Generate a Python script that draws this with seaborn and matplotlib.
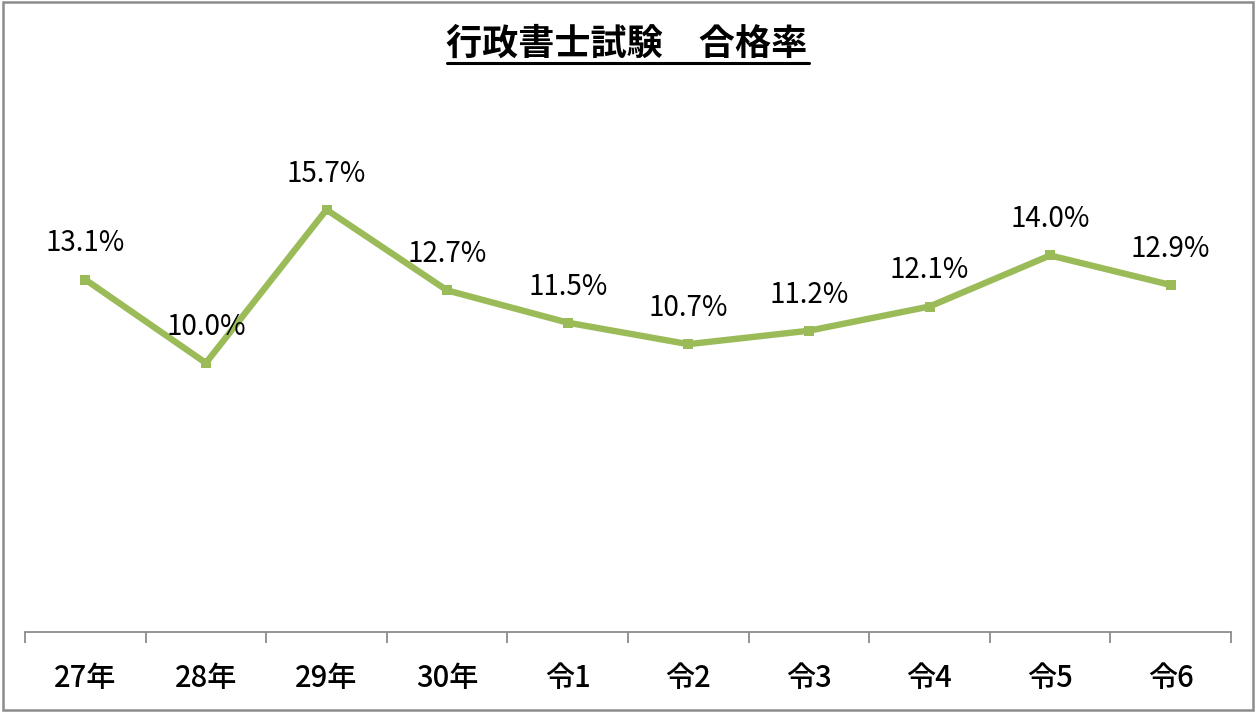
import matplotlib
matplotlib.use("Agg")
import matplotlib.pyplot as plt
import seaborn as sns
import pandas as pd
from matplotlib.patches import Rectangle
from matplotlib.lines import Line2D

categories = ["27年", "28年", "29年", "30年", "令1", "令2", "令3", "令4", "令5", "令6"]
rates = [13.1, 10.0, 15.7, 12.7, 11.5, 10.7, 11.2, 12.1, 14.0, 12.9]
title = "行政書士試験　合格率"

sns.set_theme(style="white")
plt.rcParams['font.family'] = ['Noto Sans CJK JP', 'DejaVu Sans']

df = pd.DataFrame({"year": categories, "rate": rates})

fig = plt.figure(figsize=(12.56, 7.12), dpi=100)
ax = fig.add_axes([25/1256, 1-632/712, (1231-25)/1256, (632-94)/712])

green = "#9BBB59"
sns.lineplot(data=df, x="year", y="rate", ax=ax, sort=False, color=green,
             linewidth=4.6, marker="s", markersize=7, markeredgewidth=0,
             markerfacecolor=green)

for i, v in enumerate(rates):
    ax.annotate(f"{v:.1f}%", (i, v), xytext=(0, 26), textcoords="offset points",
                ha="center", va="center", fontsize=20, color="black")

ax.set_xlim(-0.5, len(categories) - 0.5)
ax.set_ylim(0, 20)
ax.set_xlabel("")
ax.set_ylabel("")
ax.set_yticks([])
ax.set_xticks(range(len(categories)))
ax.set_xticklabels(categories, fontsize=21, fontweight="medium")
for s in ["top", "right", "left"]:
    ax.spines[s].set_visible(False)
ax.spines["bottom"].set_color("#8c8c8c")
ax.spines["bottom"].set_linewidth(1.3)
ax.set_xticks([i - 0.5 for i in range(len(categories) + 1)], minor=True)
ax.tick_params(axis="x", which="minor", length=8, width=1.3, color="#8c8c8c", direction="out", bottom=True)
ax.tick_params(axis="x", which="major", length=0, pad=22, colors="black")
ax.patch.set_alpha(0)

fig.text(627/1256, 1-44/712, title, ha="center", va="center", fontsize=26, fontweight="bold", color="black")
fig.add_artist(Line2D([447/1256, 809/1256], [1-63/712, 1-63/712], color="black", linewidth=2.2,
                      transform=fig.transFigure))
fig.patches.append(Rectangle((0.002, 0.003), 0.996, 0.994, transform=fig.transFigure,
                             fill=False, edgecolor="#8c8c8c", linewidth=1.8))

fig.savefig("out.png", dpi=100)
